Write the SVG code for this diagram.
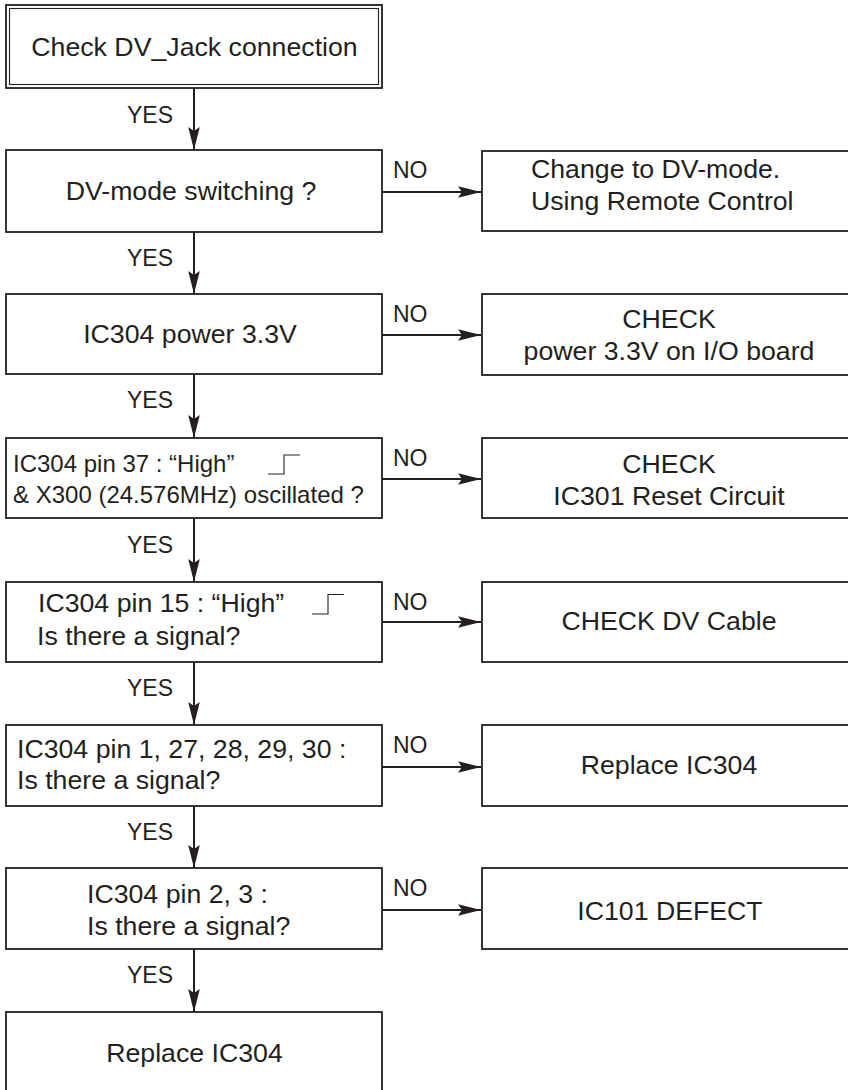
<svg xmlns="http://www.w3.org/2000/svg" width="848" height="1090" viewBox="0 0 848 1090">
<style>
  .box { fill: #ffffff; stroke: #231f20; stroke-width: 1.8; }
  .thin { fill: none; stroke: #231f20; stroke-width: 1.1; }
  .conn { fill: none; stroke: #231f20; stroke-width: 2; }
  .sig { fill: none; stroke: #231f20; stroke-width: 1.1; }
  text { font-family: "Liberation Sans", Arial, sans-serif; fill: #231f20; }
  .t { font-size: 26.7px; }
  .ts { font-size: 24px; }
  .lbl { font-size: 23px; }
  .c { text-anchor: middle; }
  .e { text-anchor: end; }
</style>
<defs>
  <marker id="ah" markerUnits="userSpaceOnUse" markerWidth="24" markerHeight="14" viewBox="-23 -7 24 14" refX="0" refY="0" orient="auto">
    <path d="M0,0 L-23,-5.8 L-19,0 L-23,5.8 Z" fill="#231f20"/>
  </marker>
</defs>
<rect width="848" height="1090" fill="#ffffff"/>

<g id="n1">
  <rect class="box" x="6" y="5" width="376" height="83" stroke-width="2"/>
  <rect class="thin" x="9.5" y="8.5" width="369" height="76"/>
  <text class="t c" x="194.5" y="56">Check DV_Jack connection</text>
</g>

<g id="n2">
  <rect class="box" x="6" y="150" width="376" height="82"/>
  <text class="t c" x="191" y="200">DV-mode switching ?</text>
</g>
<g id="r2">
  <rect class="box" x="482" y="151" width="380" height="80"/>
  <text class="t" x="531" y="178">Change to DV-mode.</text>
  <text class="t" x="531" y="210">Using Remote Control</text>
</g>

<g id="n3">
  <rect class="box" x="6" y="294" width="376" height="80"/>
  <text class="t c" x="190" y="343">IC304 power 3.3V</text>
</g>
<g id="r3">
  <rect class="box" x="482" y="294" width="380" height="81"/>
  <text class="t c" x="669" y="328">CHECK</text>
  <text class="t c" x="669" y="360">power 3.3V on I/O board</text>
</g>

<g id="n4">
  <rect class="box" x="6" y="438" width="376" height="80"/>
  <text class="ts" x="13" y="472">IC304 pin 37 : “High”</text>
  <path class="sig" d="M268,474 H284 V455 H300"/>
  <text class="ts" x="13" y="503">&amp; X300 (24.576MHz) oscillated ?</text>
</g>
<g id="r4">
  <rect class="box" x="482" y="438" width="380" height="80"/>
  <text class="t c" x="669" y="473">CHECK</text>
  <text class="t c" x="669" y="505">IC301 Reset Circuit</text>
</g>

<g id="n5">
  <rect class="box" x="6" y="582" width="376" height="80"/>
  <text class="t" x="38" y="612">IC304 pin 15 : “High”</text>
  <path class="sig" d="M312,614 H328 V594.5 H344"/>
  <text class="t" x="37" y="645">Is there a signal?</text>
</g>
<g id="r5">
  <rect class="box" x="482" y="582" width="380" height="80"/>
  <text class="t c" x="669" y="630">CHECK DV Cable</text>
</g>

<g id="n6">
  <rect class="box" x="6" y="725" width="376" height="81"/>
  <text class="t" x="17" y="758">IC304 pin 1, 27, 28, 29, 30 :</text>
  <text class="t" x="17" y="789">Is there a signal?</text>
</g>
<g id="r6">
  <rect class="box" x="482" y="725" width="380" height="81"/>
  <text class="t c" x="669" y="774">Replace IC304</text>
</g>

<g id="n7">
  <rect class="box" x="6" y="868" width="376" height="81"/>
  <text class="t" x="87" y="903">IC304 pin 2, 3 :</text>
  <text class="t" x="87" y="935">Is there a signal?</text>
</g>
<g id="r7">
  <rect class="box" x="482" y="868" width="380" height="81"/>
  <text class="t c" x="670" y="920">IC101 DEFECT</text>
</g>

<g id="n8">
  <rect class="box" x="6" y="1012" width="376" height="82"/>
  <text class="t c" x="194.5" y="1062">Replace IC304</text>
</g>

<g id="connectors">
  <line class="conn" x1="194" y1="88" x2="194" y2="150" marker-end="url(#ah)"/>
  <line class="conn" x1="194" y1="232" x2="194" y2="294" marker-end="url(#ah)"/>
  <line class="conn" x1="194" y1="374" x2="194" y2="438" marker-end="url(#ah)"/>
  <line class="conn" x1="194" y1="518" x2="194" y2="582" marker-end="url(#ah)"/>
  <line class="conn" x1="194" y1="662" x2="194" y2="725" marker-end="url(#ah)"/>
  <line class="conn" x1="194" y1="806" x2="194" y2="868" marker-end="url(#ah)"/>
  <line class="conn" x1="194" y1="949" x2="194" y2="1012" marker-end="url(#ah)"/>

  <line class="conn" x1="382" y1="192" x2="481" y2="192" marker-end="url(#ah)"/>
  <line class="conn" x1="382" y1="335" x2="481" y2="335" marker-end="url(#ah)"/>
  <line class="conn" x1="382" y1="479" x2="481" y2="479" marker-end="url(#ah)"/>
  <line class="conn" x1="382" y1="622" x2="481" y2="622" marker-end="url(#ah)"/>
  <line class="conn" x1="382" y1="767" x2="481" y2="767" marker-end="url(#ah)"/>
  <line class="conn" x1="382" y1="910" x2="481" y2="910" marker-end="url(#ah)"/>

  <text class="lbl e" x="173" y="123">YES</text>
  <text class="lbl e" x="173" y="266">YES</text>
  <text class="lbl e" x="173" y="408">YES</text>
  <text class="lbl e" x="173" y="553">YES</text>
  <text class="lbl e" x="173" y="696">YES</text>
  <text class="lbl e" x="173" y="840">YES</text>
  <text class="lbl e" x="173" y="983">YES</text>

  <text class="lbl" x="393" y="178">NO</text>
  <text class="lbl" x="393" y="322">NO</text>
  <text class="lbl" x="393" y="466">NO</text>
  <text class="lbl" x="393" y="610">NO</text>
  <text class="lbl" x="393" y="753">NO</text>
  <text class="lbl" x="393" y="896">NO</text>
</g>
</svg>
